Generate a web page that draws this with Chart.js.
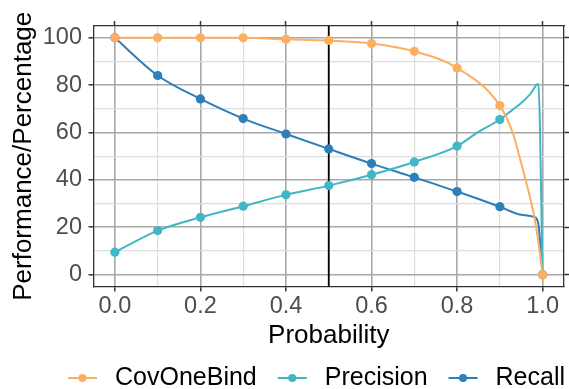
<!DOCTYPE html>
<html>
<head>
<meta charset="utf-8">
<script src="https://cdn.jsdelivr.net/npm/chart.js@4.4.0/dist/chart.umd.min.js"></script>
<style>
  body { margin: 0; background: #fff; }
</style>
</head>
<body>
<canvas id="cv" width="569" height="389"></canvas>
<script>
// probability cut-offs where the markers sit
var probs = [0, 0.1, 0.2, 0.3, 0.4, 0.5, 0.6, 0.7, 0.8, 0.9, 1.0];
var covOneBind = [100, 100, 100, 100, 99.4, 98.9, 97.6, 94.3, 87.3, 71.4, 0];
var precision = [9.5, 18.6, 24.2, 28.9, 33.7, 37.6, 42.2, 47.6, 54.3, 65.5, 0];
var recall = [100, 84.1, 74.2, 65.9, 59.4, 53.1, 46.9, 41.1, 35.1, 28.7, 0];

// extra points (line only)
var covOneBindCurveX = [0.93, 0.95, 0.97, 0.98, 0.99];
var covOneBindCurveY = [60, 47, 33, 25, 14];
var precisionCurveX = [0.85, 0.93, 0.95, 0.97, 0.99];
var precisionCurveY = [60.3, 69.7, 72.5, 76, 80.6];
var recallCurveX = [0.95, 0.98, 0.99, 0.995];
var recallCurveY = [25.3, 24.4, 21.5, 12];

var seriesNames = ['CovOneBind', 'Precision', 'Recall'];
var seriesColors = ['#fdae61', '#41b6c4', '#2c7fb8'];
var cutoff = 0.5;

var xTicks = [0, 0.1, 0.2, 0.3, 0.4, 0.5, 0.6, 0.7, 0.8, 0.9, 1.0];
var xMajor = [0, 0.2, 0.4, 0.6, 0.8, 1.0];
var xTickLabels = ['0.0', '0.2', '0.4', '0.6', '0.8', '1.0'];
var yTicks = [0, 10, 20, 30, 40, 50, 60, 70, 80, 90, 100];
var yMajor = [0, 20, 40, 60, 80, 100];
var yTickLabels = ['0', '20', '40', '60', '80', '100'];

var FONT = "'Liberation Sans', Arial, sans-serif";

function toPoints(xs, ys) {
    return xs.map(function (x, i) { return { x: x, y: ys[i] }; });
}
function curve(xs, ys, cx, cy) {
    return toPoints(xs, ys).concat(toPoints(cx, cy)).sort(function (a, b) { return a.x - b.x; });
}
function majorIndex(list, v) {
    for (var i = 0; i < list.length; i++) {
        if (Math.abs(list[i] - v) < 1e-9) return i;
    }
    return -1;
}

var lines = [
    curve(probs, covOneBind, covOneBindCurveX, covOneBindCurveY),
    curve(probs, precision, precisionCurveX, precisionCurveY),
    curve(probs, recall, recallCurveX, recallCurveY)
];
var markers = [toPoints(probs, covOneBind), toPoints(probs, precision), toPoints(probs, recall)];

var datasets = [];
// markers first (drawn on top), then the lines
for (var i = 0; i < 3; i++) {
    datasets.push({
        label: seriesNames[i],
        data: markers[i],
        showLine: false,
        pointRadius: 4.6,
        pointBackgroundColor: seriesColors[i],
        pointBorderColor: seriesColors[i],
        pointBorderWidth: 0,
        order: 0
    });
}
for (var j = 0; j < 3; j++) {
    datasets.push({
        label: seriesNames[j] + ' line',
        data: lines[j],
        borderColor: seriesColors[j],
        borderWidth: 2,
        pointRadius: 0,
        cubicInterpolationMode: 'monotone',
        fill: false,
        order: 1
    });
}

function gridColor(major) {
    return function (ctx) {
        return majorIndex(major, ctx.tick.value) >= 0 ? '#a8a8a8' : '#dedede';
    };
}
function gridWidth(major) {
    return function (ctx) {
        return majorIndex(major, ctx.tick.value) >= 0 ? 1.6 : 1.2;
    };
}
function tickColor(major) {
    return function (ctx) {
        return majorIndex(major, ctx.tick.value) >= 0 ? '#333333' : 'rgba(0,0,0,0)';
    };
}

// vertical line at the chosen cut-off
var cutoffLine = {
    id: 'cutoffLine',
    beforeDatasetsDraw: function (chart) {
        var ctx = chart.ctx, area = chart.chartArea;
        var px = chart.scales.x.getPixelForValue(cutoff);
        ctx.save();
        ctx.strokeStyle = '#000';
        ctx.lineWidth = 1.8;
        ctx.beginPath();
        ctx.moveTo(px, area.top);
        ctx.lineTo(px, area.bottom);
        ctx.stroke();
        ctx.restore();
    }
};

// ggplot style legend under the plot
var bottomLegend = {
    id: 'bottomLegend',
    afterDraw: function (chart) {
        var ctx = chart.ctx;
        var x = 68, y = 378;
        ctx.save();
        ctx.font = '25px ' + FONT;
        ctx.textBaseline = 'middle';
        ctx.textAlign = 'left';
        for (var k = 0; k < seriesNames.length; k++) {
            ctx.strokeStyle = seriesColors[k];
            ctx.lineWidth = 2;
            ctx.beginPath();
            ctx.moveTo(x, y);
            ctx.lineTo(x + 29, y);
            ctx.stroke();
            ctx.fillStyle = seriesColors[k];
            ctx.beginPath();
            ctx.arc(x + 14.5, y, 4, 0, Math.PI * 2);
            ctx.fill();
            ctx.fillStyle = '#000';
            ctx.fillText(seriesNames[k], x + 47, y);
            x = x + 47 + ctx.measureText(seriesNames[k]).width + 21;
        }
        ctx.restore();
    }
};

var ctx = document.getElementById('cv').getContext('2d');
var myChart = new Chart(ctx, {
    type: 'line',
    data: { datasets: datasets },
    plugins: [cutoffLine, bottomLegend],
    options: {
        responsive: false,
        devicePixelRatio: 1,
        animation: false,
        events: [],
        layout: { padding: { left: 0, right: 0, top: 0, bottom: 34 } },
        plugins: {
            legend: { display: false },
            tooltip: { enabled: false }
        },
        scales: {
            x: {
                type: 'linear',
                position: 'bottom',
                min: -0.05,
                max: 1.05,
                afterBuildTicks: function (scale) {
                    scale.ticks = xTicks.map(function (v) { return { value: v }; });
                },
                afterFit: function (scale) { scale.height = 68.5; },
                grid: {
                    color: gridColor(xMajor),
                    lineWidth: gridWidth(xMajor),
                    tickColor: tickColor(xMajor),
                    tickWidth: 1.5,
                    tickLength: 5
                },
                border: { display: true, color: '#333333', width: 1.3 },
                ticks: {
                    autoSkip: false,
                    maxRotation: 0,
                    padding: 1,
                    color: '#4d4d4d',
                    font: { family: FONT, size: 23.5 },
                    callback: function (value) {
                        var m = majorIndex(xMajor, value);
                        return m >= 0 ? xTickLabels[m] : '';
                    }
                },
                title: {
                    display: true,
                    text: 'Probability',
                    color: '#000',
                    font: { family: FONT, size: 26 },
                    padding: { top: 0, bottom: 4 }
                }
            },
            x2: {
                type: 'linear',
                position: 'top',
                min: -0.05,
                max: 1.05,
                afterBuildTicks: function (scale) {
                    scale.ticks = xTicks.map(function (v) { return { value: v }; });
                },
                afterFit: function (scale) { scale.height = 26; },
                grid: {
                    drawOnChartArea: false,
                    tickColor: tickColor(xMajor),
                    tickWidth: 1.5,
                    tickLength: 5
                },
                border: { display: true, color: '#333333', width: 1.3 },
                ticks: { display: false }
            },
            y: {
                type: 'linear',
                position: 'left',
                min: -5,
                max: 105,
                afterBuildTicks: function (scale) {
                    scale.ticks = yTicks.map(function (v) { return { value: v }; });
                },
                afterFit: function (scale) { scale.width = 93.5; },
                grid: {
                    color: gridColor(yMajor),
                    lineWidth: gridWidth(yMajor),
                    tickColor: tickColor(yMajor),
                    tickWidth: 1.5,
                    tickLength: 5
                },
                border: { display: true, color: '#333333', width: 1.3 },
                ticks: {
                    autoSkip: false,
                    padding: 6.5,
                    color: '#4d4d4d',
                    font: { family: FONT, size: 23.5 },
                    callback: function (value) {
                        var m = majorIndex(yMajor, value);
                        return m >= 0 ? yTickLabels[m] : '';
                    }
                },
                title: {
                    display: true,
                    text: 'Performance/Percentage',
                    color: '#000',
                    font: { family: FONT, size: 26 },
                    padding: { top: 8, bottom: 0 }
                }
            },
            y2: {
                type: 'linear',
                position: 'right',
                min: -5,
                max: 105,
                afterBuildTicks: function (scale) {
                    scale.ticks = yTicks.map(function (v) { return { value: v }; });
                },
                afterFit: function (scale) { scale.width = 5; },
                grid: {
                    drawOnChartArea: false,
                    tickColor: tickColor(yMajor),
                    tickWidth: 1.5,
                    tickLength: 5
                },
                border: { display: true, color: '#333333', width: 1.3 },
                ticks: { display: false }
            }
        }
    }
});
</script>
</body>
</html>
